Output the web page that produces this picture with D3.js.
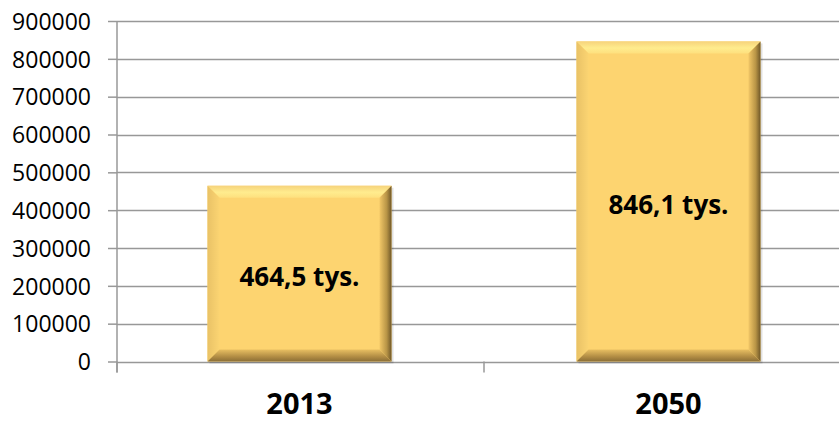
<!DOCTYPE html>
<html>
<head>
<meta charset="utf-8">
<script src="https://cdn.jsdelivr.net/npm/d3@7"></script>
<style>
  html, body { margin: 0; padding: 0; background: #fff; }
  svg { display: block; }
</style>
</head>
<body>
<svg id="chart" width="839" height="421"></svg>
<script>
// Population (persons) in 2013 and projected for 2050
const categories = ["2013", "2050"];
const values = [464500, 846100];
const barLabels = ["464,5 tys.", "846,1 tys."];
const yTicks = [0, 100000, 200000, 300000, 400000, 500000, 600000, 700000, 800000, 900000];

const svg = d3.select("#chart");
const margin = { left: 117, top: 21, bottom: 59 };
const plotRight = 851; // plot area runs slightly past the visible edge
const height = 421;

const x = d3.scaleBand()
  .domain(categories)
  .range([margin.left, plotRight])
  .paddingInner(0.5014)
  .paddingOuter(0.2453);

const y = d3.scaleLinear()
  .domain([0, 900000])
  .range([height - margin.bottom - 0.5, margin.top]);

const defs = svg.append("defs");
function lin(id, x1, y1, x2, y2, stops) {
  const g = defs.append("linearGradient").attr("id", id)
    .attr("x1", x1).attr("y1", y1).attr("x2", x2).attr("y2", y2);
  stops.forEach(s => g.append("stop").attr("offset", s[0]).attr("stop-color", s[1]));
}
lin("bvTop", 0, 0, 0, 1, [[0, "#f6d37c"], [0.55, "#ffec8e"], [1, "#fee07e"]]);
lin("bvLeft", 0, 0, 1, 0, [[0, "#e9c266"], [1, "#fbd472"]]);
lin("bvRight", 0, 0, 1, 0, [[0, "#f2c767"], [0.6, "#b89446"], [1, "#6f5728"]]);
lin("bvBottom", 0, 0, 0, 1, [[0, "#e8bf62"], [0.6, "#b18c44"], [1, "#8b6e35"]]);

// horizontal gridlines
const grid = svg.append("g");
grid.selectAll("line").data(yTicks).join("line")
  .attr("x1", margin.left).attr("x2", 839)
  .attr("y1", d => Math.round(y(d)) + 0.5).attr("y2", d => Math.round(y(d)) + 0.5)
  .attr("stroke", "#989898").attr("stroke-width", 1.5);

// y axis
const yAxis = svg.append("g")
  .attr("transform", `translate(${margin.left},0)`)
  .call(d3.axisLeft(y).tickValues(yTicks).tickSize(9).tickPadding(17).tickFormat(d3.format("d")));
yAxis.select(".domain").attr("stroke", "#989898").attr("stroke-width", 1.5)
  .attr("d", `M0,${margin.top}V${y(0) + 11}`);
yAxis.selectAll(".tick line").attr("stroke", "#989898").attr("stroke-width", 1.5);
yAxis.selectAll(".tick text")
  .attr("font-family", "'Open Sans', sans-serif").attr("font-size", 23)
  .attr("fill", "#000").attr("dy", "0.36em");

// x axis tick marks at category boundaries
const step = x.step();
const bounds = [margin.left, x(categories[0]) + x.bandwidth() + (step - x.bandwidth()) / 2, plotRight];
svg.append("g").selectAll("line").data(bounds).join("line")
  .attr("x1", d => d).attr("x2", d => d)
  .attr("y1", y(0)).attr("y2", y(0) + 11)
  .attr("stroke", "#989898").attr("stroke-width", 1.5);

// x labels
svg.append("g").selectAll("text").data(categories).join("text")
  .attr("x", d => x(d) + x.bandwidth() / 2)
  .attr("y", 414)
  .attr("text-anchor", "middle")
  .attr("font-family", "'Open Sans', sans-serif").attr("font-weight", 700)
  .attr("font-size", 29).attr("fill", "#000")
  .text(d => d);

// bevelled bars
const bv = 12;
const bars = svg.append("g").selectAll("g").data(categories).join("g");
bars.each(function (c, i) {
  const g = d3.select(this);
  const x0 = x(c), x1 = x(c) + x.bandwidth();
  const y0 = y(values[i]), y1 = y(0);
  const pts = a => a.map(p => p.join(",")).join(" ");
  // soft shadow
  g.append("rect").attr("x", x0 + 2).attr("y", y0 + 2).attr("width", x1 - x0).attr("height", y1 - y0)
    .attr("fill", "#000").attr("opacity", 0.12);
  g.append("rect").attr("x", x0).attr("y", y0).attr("width", x1 - x0).attr("height", y1 - y0)
    .attr("fill", "#fdd470");
  g.append("polygon").attr("fill", "url(#bvTop)")
    .attr("points", pts([[x0, y0], [x1, y0], [x1 - bv, y0 + bv], [x0 + bv, y0 + bv]]));
  g.append("polygon").attr("fill", "url(#bvLeft)")
    .attr("points", pts([[x0, y0], [x0 + bv, y0 + bv], [x0 + bv, y1 - bv], [x0, y1]]));
  g.append("polygon").attr("fill", "url(#bvRight)")
    .attr("points", pts([[x1, y0], [x1, y1], [x1 - bv, y1 - bv], [x1 - bv, y0 + bv]]));
  g.append("polygon").attr("fill", "url(#bvBottom)")
    .attr("points", pts([[x0, y1], [x0 + bv, y1 - bv], [x1 - bv, y1 - bv], [x1, y1]]));
  g.append("text")
    .attr("x", (x0 + x1) / 2)
    .attr("y", (y0 + y1) / 2 + 3)
    .attr("dy", "0.36em")
    .attr("text-anchor", "middle")
    .attr("font-family", "'Open Sans', sans-serif").attr("font-weight", 700)
    .attr("font-size", 26).attr("fill", "#000")
    .text(barLabels[i]);
});
</script>
</body>
</html>
